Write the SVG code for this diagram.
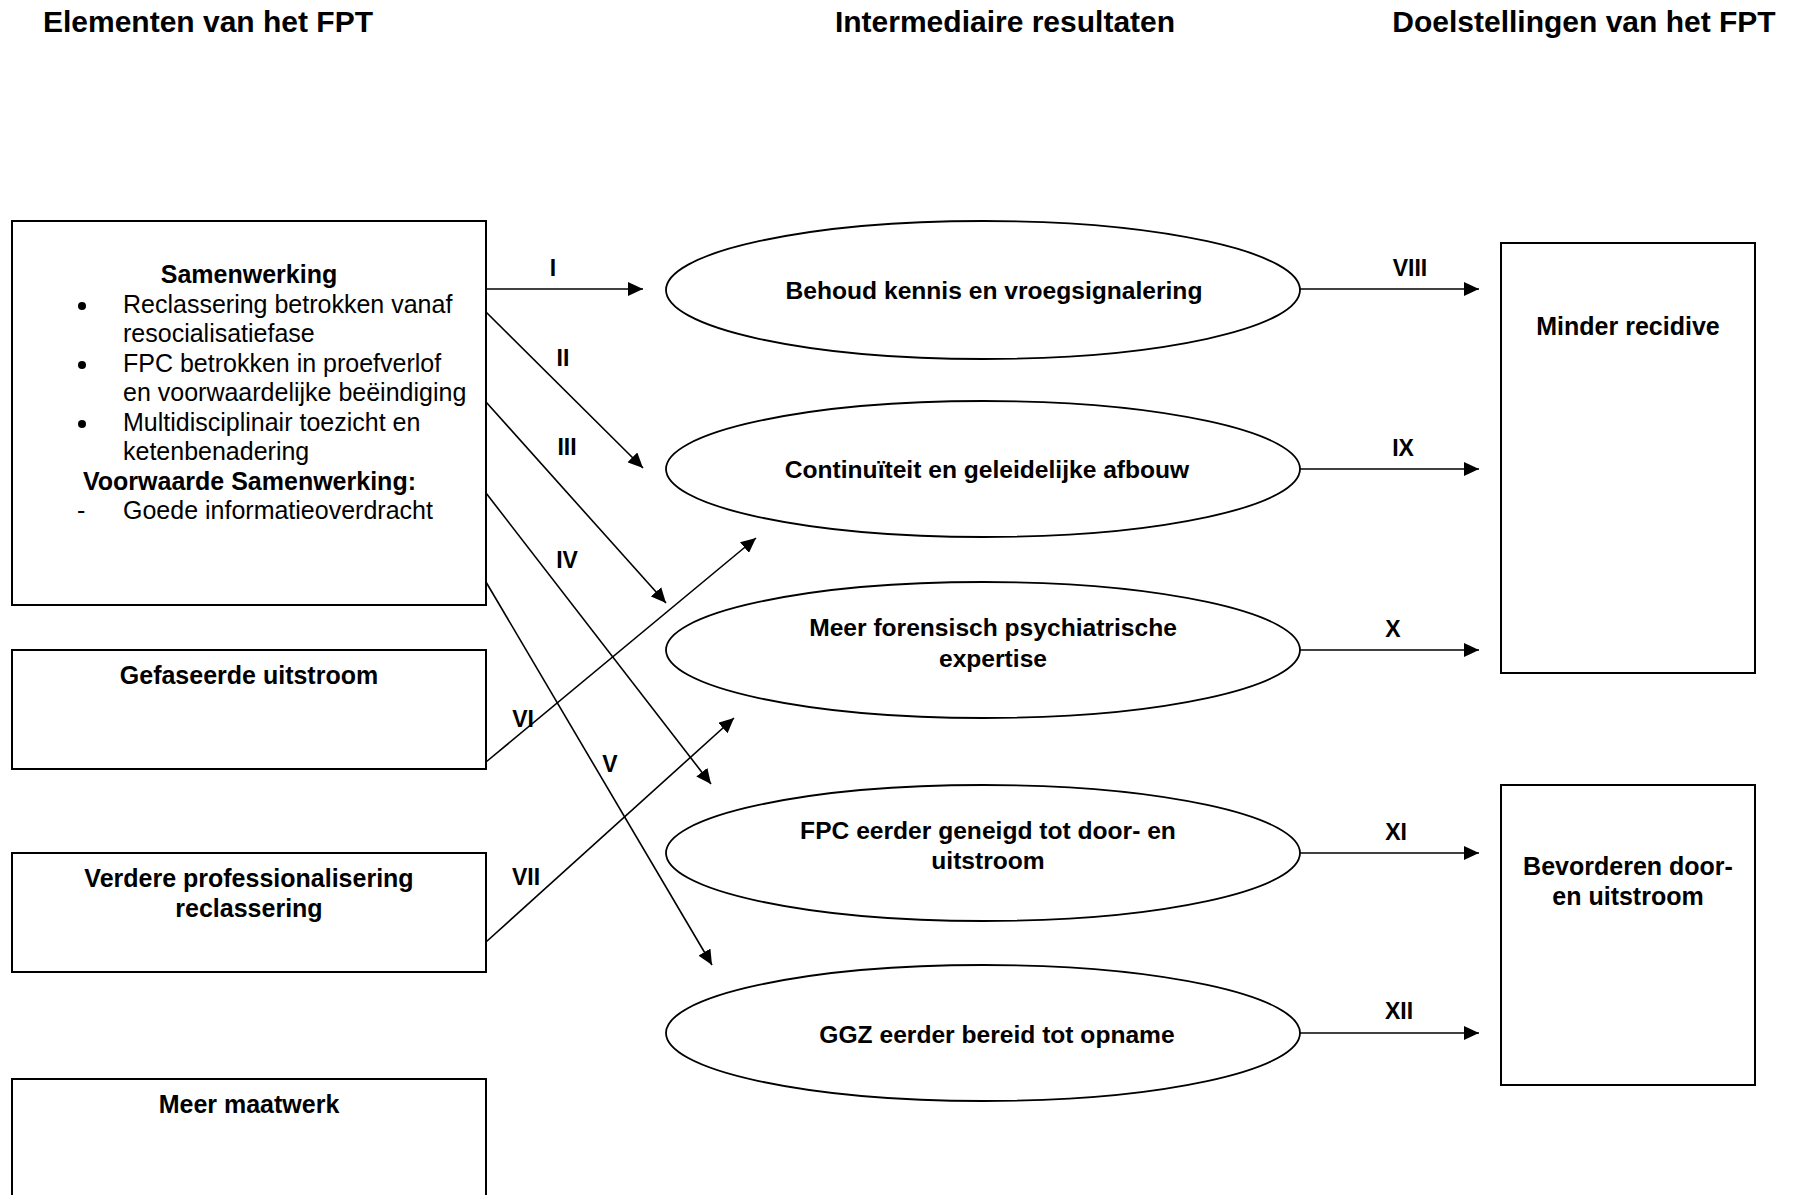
<svg xmlns="http://www.w3.org/2000/svg" width="1797" height="1195" viewBox="0 0 1797 1195">
<style>
text{font-family:"Liberation Sans",Arial,sans-serif;fill:#000}
.t{font-size:30px;font-weight:bold}
.b{font-size:25px;font-weight:bold}
.r{font-size:25px}
.e{font-size:24.6px;font-weight:bold}
.l{font-size:23px;font-weight:bold}
.box{fill:#fff;stroke:#000;stroke-width:2}
.ell{fill:#fff;stroke:#000;stroke-width:1.8}
.c line{stroke:#000;stroke-width:1.6;marker-end:url(#ah)}
</style>
<defs>
<marker id="ah" markerUnits="userSpaceOnUse" markerWidth="16" markerHeight="14" refX="15" refY="7" orient="auto">
<path d="M0,0 L15,7 L0,14 z" fill="#000"/>
</marker>
</defs>
<rect width="1797" height="1195" fill="#fff"/>
<g id="titles">
<text class="t" x="208" y="32" text-anchor="middle">Elementen van het FPT</text>
<text class="t" x="1005" y="32" text-anchor="middle">Intermediaire resultaten</text>
<text class="t" x="1584" y="32" text-anchor="middle">Doelstellingen van het FPT</text>
</g>
<g id="node-samenwerking">
<rect class="box" x="12" y="221" width="474" height="384"/>
<text class="b" x="249" y="283" text-anchor="middle">Samenwerking</text>
<circle cx="82" cy="306" r="4"/>
<text class="r" x="123" y="313">Reclassering betrokken vanaf</text>
<text class="r" x="123" y="342">resocialisatiefase</text>
<circle cx="82" cy="365" r="4"/>
<text class="r" x="123" y="372">FPC betrokken in proefverlof</text>
<text class="r" x="123" y="401">en voorwaardelijke beëindiging</text>
<circle cx="82" cy="424" r="4"/>
<text class="r" x="123" y="431">Multidisciplinair toezicht en</text>
<text class="r" x="123" y="460">ketenbenadering</text>
<text class="b" x="83" y="490">Voorwaarde Samenwerking:</text>
<text class="r" x="77" y="519">-</text>
<text class="r" x="123" y="519">Goede informatieoverdracht</text>
</g>
<g id="node-gefaseerde">
<rect class="box" x="12" y="650" width="474" height="119"/>
<text class="b" x="249" y="684" text-anchor="middle">Gefaseerde uitstroom</text>
</g>
<g id="node-verdere">
<rect class="box" x="12" y="853" width="474" height="119"/>
<text class="b" x="249" y="887" text-anchor="middle">Verdere professionalisering</text>
<text class="b" x="249" y="917" text-anchor="middle">reclassering</text>
</g>
<g id="node-maatwerk">
<rect class="box" x="12" y="1079" width="474" height="140"/>
<text class="b" x="249" y="1113" text-anchor="middle">Meer maatwerk</text>
</g>
<g id="node-behoud">
<ellipse class="ell" cx="983" cy="290" rx="317" ry="69"/>
<text class="e" x="994" y="299" text-anchor="middle">Behoud kennis en vroegsignalering</text>
</g>
<g id="node-continuiteit">
<ellipse class="ell" cx="983" cy="469" rx="317" ry="68"/>
<text class="e" x="987" y="478" text-anchor="middle">Continuïteit en geleidelijke afbouw</text>
</g>
<g id="node-expertise">
<ellipse class="ell" cx="983" cy="650" rx="317" ry="68"/>
<text class="e" x="993" y="636" text-anchor="middle">Meer forensisch psychiatrische</text>
<text class="e" x="993" y="667" text-anchor="middle">expertise</text>
</g>
<g id="node-fpc">
<ellipse class="ell" cx="983" cy="853" rx="317" ry="68"/>
<text class="e" x="988" y="839" text-anchor="middle">FPC eerder geneigd tot door- en</text>
<text class="e" x="988" y="869" text-anchor="middle">uitstroom</text>
</g>
<g id="node-ggz">
<ellipse class="ell" cx="983" cy="1033" rx="317" ry="68"/>
<text class="e" x="997" y="1043" text-anchor="middle">GGZ eerder bereid tot opname</text>
</g>
<g id="node-recidive">
<rect class="box" x="1501" y="243" width="254" height="430"/>
<text class="b" x="1628" y="335" text-anchor="middle">Minder recidive</text>
</g>
<g id="node-bevorderen">
<rect class="box" x="1501" y="785" width="254" height="300"/>
<text class="b" x="1628" y="875" text-anchor="middle">Bevorderen door-</text>
<text class="b" x="1628" y="905" text-anchor="middle">en uitstroom</text>
</g>
<g id="connectors" class="c">
<line x1="486" y1="289" x2="643" y2="289"/>
<line x1="486" y1="312" x2="643" y2="468"/>
<line x1="486" y1="402" x2="666" y2="603"/>
<line x1="486" y1="493" x2="711" y2="784"/>
<line x1="486" y1="582" x2="712" y2="965"/>
<line x1="486" y1="762" x2="756" y2="538"/>
<line x1="486" y1="942" x2="734" y2="718"/>
<line x1="1300" y1="289" x2="1479" y2="289"/>
<line x1="1300" y1="469" x2="1479" y2="469"/>
<line x1="1300" y1="650" x2="1479" y2="650"/>
<line x1="1300" y1="853" x2="1479" y2="853"/>
<line x1="1300" y1="1033" x2="1479" y2="1033"/>
</g>
<g id="connector-labels">
<text class="l" x="553" y="276" text-anchor="middle">I</text>
<text class="l" x="563" y="366" text-anchor="middle">II</text>
<text class="l" x="567" y="455" text-anchor="middle">III</text>
<text class="l" x="567" y="568" text-anchor="middle">IV</text>
<text class="l" x="610" y="772" text-anchor="middle">V</text>
<text class="l" x="523" y="727" text-anchor="middle">VI</text>
<text class="l" x="526" y="885" text-anchor="middle">VII</text>
<text class="l" x="1410" y="276" text-anchor="middle">VIII</text>
<text class="l" x="1403" y="456" text-anchor="middle">IX</text>
<text class="l" x="1393" y="637" text-anchor="middle">X</text>
<text class="l" x="1396" y="840" text-anchor="middle">XI</text>
<text class="l" x="1399" y="1019" text-anchor="middle">XII</text>
</g>
</svg>
